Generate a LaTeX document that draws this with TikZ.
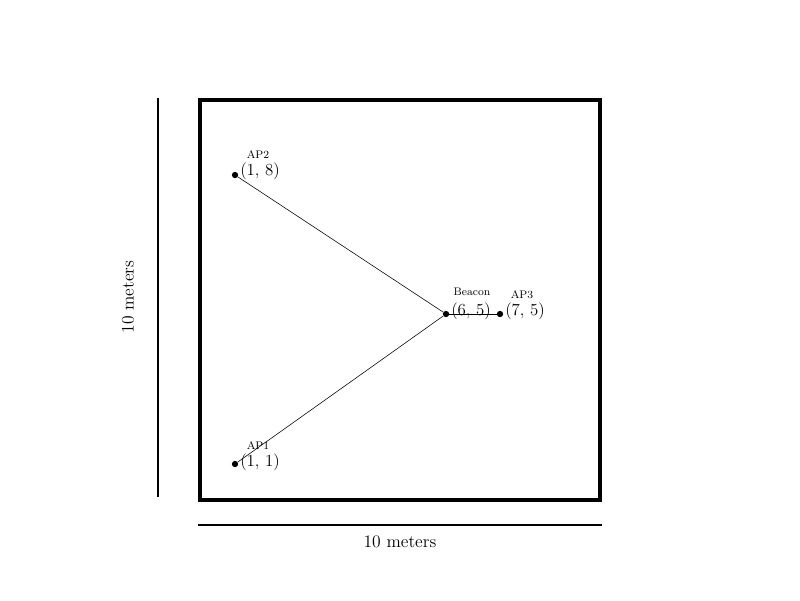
\documentclass[tikz,border=0pt]{standalone}
\usetikzlibrary{positioning}

\begin{document}
\begin{tikzpicture}[x=0.025cm, y=-0.025cm,
    pt/.style={circle, fill=black, inner sep=0pt, minimum size=4.5pt},
    coordlbl/.style={font=\fontsize{12}{13}\selectfont, inner sep=0pt},
    namelbl/.style={font=\fontsize{7.8}{8}\selectfont, inner sep=0pt},
    link/.style={line width=0.4pt}
  ]
    \useasboundingbox (0,0) rectangle (800,600);
    % room
    \draw[line width=2.8pt] (200,100) rectangle (600,500);
    % scale bars
    \coordinate (vtop) at (158,98);
    \coordinate (vbot) at (158,497);
    \draw[line width=1pt] (vtop) -- (vbot);
    \node[rotate=90, font=\fontsize{12.5}{14}\selectfont] (vlbl) at (128,297) {10 meters};
    \coordinate (hleft) at (198,525);
    \coordinate (hright) at (602,525);
    \draw[line width=1.3pt] (hleft) -- (hright);
    \node[font=\fontsize{12.5}{14}\selectfont] (hlbl) at (400,542) {10 meters};
    % points
    \node[pt] (ap1) at (235,464) {};
    \node[pt] (ap2) at (235,175) {};
    \node[pt] (beacon) at (446,314) {};
    \node[pt] (ap3) at (500,314) {};
    \draw[link] (ap1) -- (beacon);
    \draw[link] (ap2) -- (beacon);
    \draw[link] (beacon) -- (ap3);
    % labels
    \node[coordlbl] (ap1c) at (260,462) {(1, 1)};
    \node[namelbl] (ap1n) at (258,446) {AP1};
    \node[coordlbl] (ap2c) at (260,171) {(1, 8)};
    \node[namelbl] (ap2n) at (258,155) {AP2};
    \node[coordlbl] (beaconc) at (471,311) {(6, 5)};
    \node[namelbl] (beaconn) at (472,292) {Beacon};
    \node[coordlbl] (ap3c) at (525,311) {(7, 5)};
    \node[namelbl] (ap3n) at (522,295) {AP3};
  \end{tikzpicture}
\end{document}
